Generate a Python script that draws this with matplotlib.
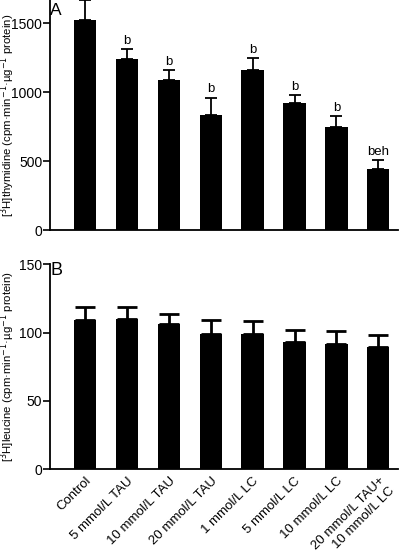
import numpy as np
import matplotlib.pyplot as plt

plt.rcParams['font.family'] = ['Liberation Sans', 'DejaVu Sans']

groups = ['Control', '5 mmol/L TAU', '10 mmol/L TAU', '20 mmol/L TAU',
          '1 mmol/L LC', '5 mmol/L LC', '10 mmol/L LC',
          '20 mmol/L TAU+\n10 mmol/L LC']

# panel A: [3H]thymidine
thy_mean = [1522, 1241, 1087, 838, 1159, 922, 751, 442]
thy_err = [145, 71, 72, 124, 87, 61, 77, 63]
thy_sig = ['', 'b', 'b', 'b', 'b', 'b', 'b', 'beh']

# panel B: [3H]leucine
leu_mean = [109, 110, 106, 99, 99, 93.4, 91.4, 89.7]
leu_err = [10, 9, 7.6, 10, 9.5, 8.8, 10.1, 8.5]

x = np.arange(len(groups))

fig = plt.figure(figsize=(4.0, 5.53), dpi=100)
axA = fig.add_axes([0.125, 0.584, 0.87, 0.416])
axB = fig.add_axes([0.125, 0.1513, 0.87, 0.3707])

def style(ax):
    for s in ['top', 'right']:
        ax.spines[s].set_visible(False)
    ax.spines['left'].set_linewidth(1.3)
    ax.spines['bottom'].set_linewidth(1.3)
    ax.tick_params(axis='y', direction='out', length=5, width=1.2, labelsize=10, pad=0.5)
    ax.tick_params(axis='x', length=0)
    ax.set_xlim(-0.835, 7.47)

# --- A ---
axA.bar(x, thy_mean, width=0.53, color='black')
axA.errorbar(x, thy_mean, yerr=[np.zeros(len(x)), thy_err], fmt='none',
             ecolor='black', elinewidth=1.3, capsize=4.5, capthick=1.3)
for xi, m, e, s in zip(x, thy_mean, thy_err, thy_sig):
    if s:
        axA.text(xi, m + e + 15, s, ha='center', va='bottom', fontsize=9.5)
style(axA)
axA.set_ylim(0, 1670)
axA.set_yticks([0, 500, 1000, 1500])
axA.set_xticks([])
axA.set_ylabel(r'[$^3$H]thymidine (cpm·min$^{-1}$·µg$^{-1}$ protein)', fontsize=8.2)
axA.yaxis.set_label_coords(-0.096, 0.5)
axA.text(0.0, 0.985, 'A', transform=axA.transAxes, fontsize=12.5, va='top', ha='left')

# --- B ---
axB.bar(x, leu_mean, width=0.53, color='black')
axB.errorbar(x, leu_mean, yerr=[np.zeros(len(x)), leu_err], fmt='none',
             ecolor='black', elinewidth=2, capsize=7, capthick=2)
style(axB)
axB.set_ylim(0, 150)
axB.set_yticks([0, 50, 100, 150])
axB.set_xticks(x)
axB.set_xticklabels(groups, rotation=45, ha='right', rotation_mode='anchor', fontsize=9.5)
axB.tick_params(axis='x', pad=4)
axB.set_ylabel(r'[$^3$H]leucine (cpm·min$^{-1}$·µg$^{-1}$ protein)', fontsize=8.2)
axB.yaxis.set_label_coords(-0.096, 0.5)
axB.text(0.0, 1.01, 'B', transform=axB.transAxes, fontsize=13, va='top', ha='left')

fig.savefig('out.png', dpi=100)
